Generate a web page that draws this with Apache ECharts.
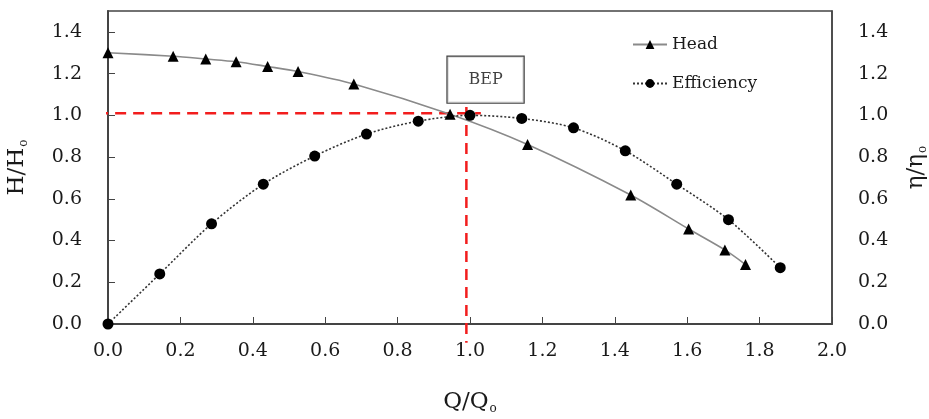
<!DOCTYPE html>
<html>
<head>
<meta charset="utf-8">
<script src="https://cdn.jsdelivr.net/npm/echarts@6/dist/echarts.min.js"></script>
<style>
  html, body { margin: 0; padding: 0; background: #fff; }
  #chart { width: 929px; height: 419px; }
</style>
</head>
<body>
<div id="chart"></div>
<script>
// Pump characteristic: relative head and efficiency versus relative flow
const headQ = [0, 0.18, 0.27, 0.354, 0.441, 0.525, 0.679, 0.945, 1.159, 1.444, 1.604, 1.704, 1.761];
const headH = [1.30, 1.283, 1.27, 1.257, 1.234, 1.21, 1.15, 1.005, 0.86, 0.618, 0.455, 0.355, 0.285];

const effQ = [0, 0.143, 0.286, 0.429, 0.571, 0.714, 0.857, 1.0, 1.143, 1.286, 1.429, 1.571, 1.714, 1.857];
const effE = [0, 0.24, 0.48, 0.67, 0.805, 0.91, 0.972, 1.0, 0.985, 0.94, 0.83, 0.67, 0.50, 0.27];

// Best efficiency point guide lines
const bepHLineQ = [-0.03, 1.03];
const bepHLineV = [1.01, 1.01];
const bepVLineQ = [0.99, 0.99];
const bepVLineV = [1.04, -0.09];

// Annotation box position
const bepBox = [1.043, 1.171];
const bepText = 'BEP';

const serif = 'DejaVu Serif';
const ink = '#1a1a1a';
const pair = (xs, ys) => xs.map((x, i) => [x, ys[i]]);

const nameRich = {
  m: { fontFamily: serif, fontSize: 23, color: ink },
  s: { fontFamily: serif, fontSize: 12, color: ink, padding: [13, 0, 0, 1] }
};

const chart = echarts.init(document.getElementById('chart'));
chart.setOption({
  animation: false,
  grid: {
    left: 108, right: 97, top: 11, bottom: 95,
    outerBoundsMode: 'none', containLabel: false,
    show: true, borderColor: '#444', borderWidth: 1.5, backgroundColor: 'transparent'
  },
  legend: {
    orient: 'vertical', left: 632, top: 36, padding: 0,
    itemWidth: 34, itemHeight: 11, itemGap: 22,
    data: ['Head', 'Efficiency'],
    textStyle: { fontFamily: serif, fontSize: 17, color: ink }
  },
  xAxis: {
    type: 'value', min: 0, max: 2, interval: 0.2,
    name: '{m|Q/Q}{s|o}', nameLocation: 'middle', nameGap: 66,
    nameTextStyle: { rich: nameRich },
    axisLine: { show: true, lineStyle: { color: '#444', width: 2 } },
    axisTick: { show: true, inside: true, length: 7, lineStyle: { color: '#444', width: 1 } },
    axisLabel: { margin: 18, fontFamily: serif, fontSize: 19, color: ink, formatter: v => v.toFixed(1) },
    splitLine: { show: false }
  },
  yAxis: [{
    type: 'value', min: 0, max: 1.5, interval: 0.2, position: 'left',
    name: '{m|H/H}{s|o}', nameLocation: 'middle', nameGap: 78, nameRotate: 90,
    nameTextStyle: { rich: nameRich },
    axisLine: { show: true, lineStyle: { color: '#444', width: 2 } },
    axisTick: { show: true, inside: true, length: 7, lineStyle: { color: '#444', width: 1 } },
    axisLabel: { margin: 26, fontFamily: serif, fontSize: 19, color: ink, showMaxLabel: false, formatter: v => v.toFixed(1) },
    splitLine: { show: false }
  }, {
    type: 'value', min: 0, max: 1.5, interval: 0.2, position: 'right',
    name: '{m|η/η}{s|o}', nameLocation: 'middle', nameGap: 72, nameRotate: 90,
    nameTextStyle: { rich: nameRich },
    axisLine: { show: true, lineStyle: { color: '#444', width: 1.5 } },
    axisTick: { show: false },
    axisLabel: { margin: 26, fontFamily: serif, fontSize: 19, color: ink, showMaxLabel: false, formatter: v => v.toFixed(1) },
    splitLine: { show: false }
  }],
  series: [
    {
      name: 'bepH', type: 'line', data: pair(bepHLineQ, bepHLineV), clip: false,
      symbol: 'none', z: 1, silent: true,
      lineStyle: { color: '#f21d1d', width: 2.5, type: [11, 7] }
    },
    {
      name: 'bepV', type: 'line', data: pair(bepVLineQ, bepVLineV), clip: false,
      symbol: 'none', z: 1, silent: true,
      lineStyle: { color: '#f21d1d', width: 2.5, type: [11, 7] }
    },
    {
      name: 'Head', type: 'line', data: pair(headQ, headH), smooth: 0.3,
      symbol: 'triangle', symbolSize: 11, z: 3,
      itemStyle: { color: '#000' },
      lineStyle: { color: '#8a8a8a', width: 1.6 }
    },
    {
      name: 'Efficiency', type: 'line', yAxisIndex: 1, data: pair(effQ, effE), smooth: 0.3,
      symbol: 'circle', symbolSize: 11, z: 3,
      itemStyle: { color: '#000' },
      lineStyle: { color: '#333', width: 1.6, type: [2, 2] }
    },
    {
      name: 'bepLabel', type: 'scatter', data: [bepBox], symbolSize: 0, z: 4, silent: true,
      label: {
        show: true, position: 'inside', formatter: bepText,
        fontFamily: serif, fontSize: 16, color: '#111',
        textBorderWidth: 0, textShadowBlur: 0,
        backgroundColor: '#fff', borderColor: '#111', borderWidth: 1.2,
        width: 76, height: 46, lineHeight: 46, align: 'center', verticalAlign: 'middle'
      }
    }
  ]
});
</script>
</body>
</html>
